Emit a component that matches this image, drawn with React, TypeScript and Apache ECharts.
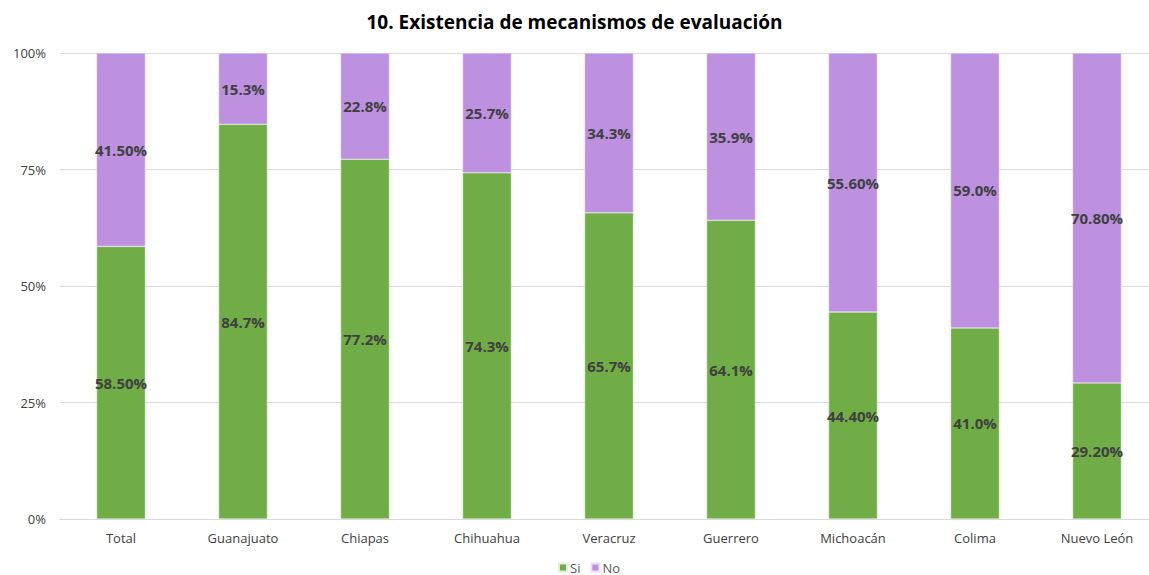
import React, { useEffect, useRef } from "react";
import * as echarts from "echarts";

const categories = ["Total", "Guanajuato", "Chiapas", "Chihuahua", "Veracruz", "Guerrero", "Michoacán", "Colima", "Nuevo León"];
const siValues = [58.5, 84.7, 77.2, 74.3, 65.7, 64.1, 44.4, 41.0, 29.2];
const noValues = [41.5, 15.3, 22.8, 25.7, 34.3, 35.9, 55.6, 59.0, 70.8];
const siLabels = ["58.50%", "84.7%", "77.2%", "74.3%", "65.7%", "64.1%", "44.40%", "41.0%", "29.20%"];
const noLabels = ["41.50%", "15.3%", "22.8%", "25.7%", "34.3%", "35.9%", "55.60%", "59.0%", "70.80%"];

const FONT = "'Open Sans', 'Noto Sans', sans-serif";

export default function App() {
  const ref = useRef<HTMLDivElement>(null);
  useEffect(() => {
    if (!ref.current) return;
    const chart = echarts.init(ref.current, undefined, { renderer: "svg" });
    const labelStyle = {
      show: true,
      position: "inside" as const,
      color: "#404040",
      fontWeight: "bold" as const,
      fontSize: 15,
      fontFamily: FONT,
    };
    chart.setOption({
      animation: false,
      backgroundColor: "#ffffff",
      title: {
        text: "10. Existencia de mecanismos de evaluación",
        left: "center",
        top: 7,
        textStyle: { fontSize: 19, fontWeight: "bold", color: "#000000", fontFamily: FONT },
      },
      legend: {
        data: ["Si", "No"],
        left: 558,
        top: 561,
        padding: 0,
        itemWidth: 8,
        itemHeight: 8,
        itemGap: 10,
        icon: "rect",
        textStyle: { fontSize: 13, lineHeight: 13, color: "#595959", fontFamily: FONT, padding: [0, 0, 0, -2] },
      },
      grid: { left: 60, top: 53, width: 1098, height: 466, containLabel: false, outerBoundsMode: "none" },
      xAxis: {
        type: "category",
        data: categories,
        axisLine: { show: true, lineStyle: { color: "#D9D9D9" } },
        axisTick: { show: false },
        axisLabel: { color: "#404040", fontSize: 13, fontFamily: FONT, margin: 12 },
      },
      yAxis: {
        type: "value",
        min: 0,
        max: 100,
        interval: 25,
        axisLine: { show: false },
        axisTick: { show: false },
        splitLine: { lineStyle: { color: "#D9D9D9" } },
        axisLabel: { formatter: "{value}%", color: "#404040", fontSize: 13, fontFamily: FONT, margin: 14 },
      },
      series: [
        {
          name: "Si",
          type: "bar",
          stack: "total",
          barWidth: "40%",
          data: siValues,
          itemStyle: { color: "#70AD47", borderColor: "#E2EFDA", borderWidth: 0.5 },
          label: { ...labelStyle, formatter: (p: any) => siLabels[p.dataIndex] },
        },
        {
          name: "No",
          type: "bar",
          stack: "total",
          barWidth: "40%",
          data: noValues,
          itemStyle: { color: "#BD90E0", borderColor: "#EDE0F7", borderWidth: 0.5 },
          label: { ...labelStyle, formatter: (p: any) => noLabels[p.dataIndex] },
        },
      ],
    });
    return () => chart.dispose();
  }, []);
  return (
    <div
      ref={ref}
      style={{ position: "absolute", left: 0, top: 0, width: 1149, height: 575 }}
    />
  );
}
